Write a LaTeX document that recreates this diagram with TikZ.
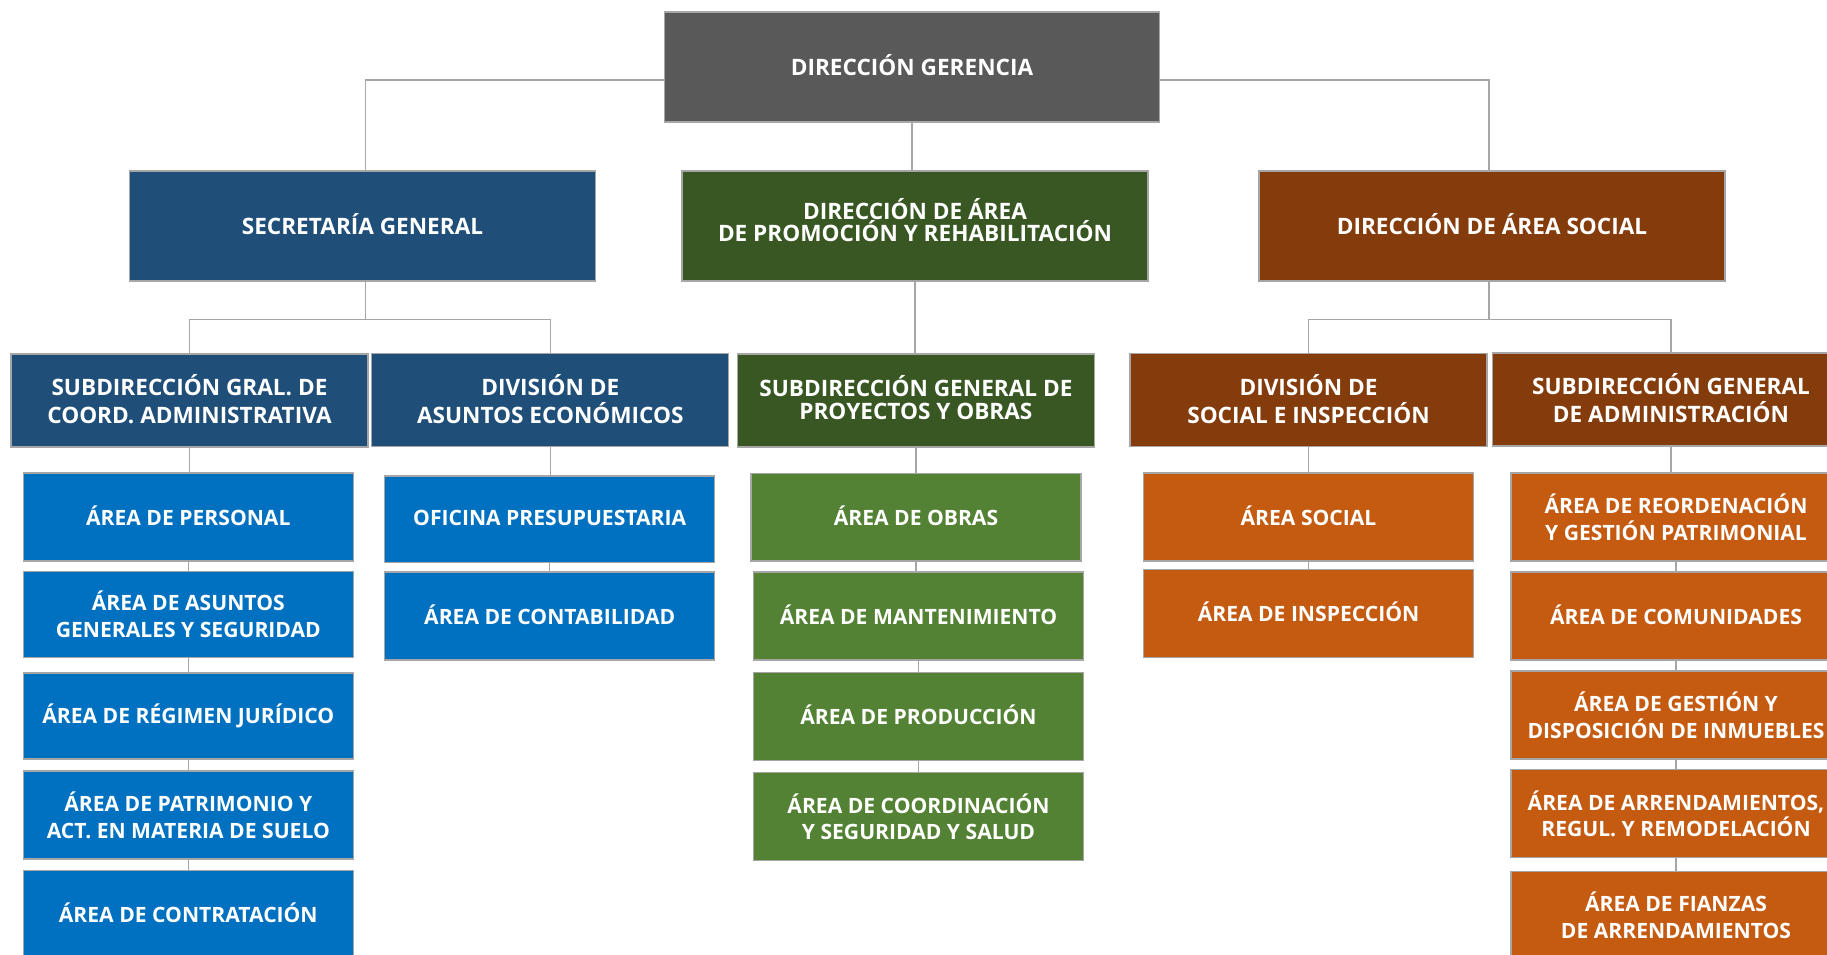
\documentclass[tikz,border=0pt]{standalone}
\usepackage{fontspec}
\setmainfont{Open Sans}
\definecolor{cgray}{HTML}{595959}
\definecolor{cdblue}{HTML}{1F4E79}
\definecolor{cblue}{HTML}{0070C0}
\definecolor{cdgreen}{HTML}{385723}
\definecolor{cgreen}{HTML}{548235}
\definecolor{cdorange}{HTML}{843C0C}
\definecolor{corange}{HTML}{C55A11}
\definecolor{cborder}{HTML}{A6A6A6}
\definecolor{cline}{HTML}{A6A6A6}
\newcommand{\upby}[1]{\rule[-#1pt]{0pt}{0pt}}
\tikzset{
  box/.style={draw=cborder, line width=1.3pt, text=white, align=center, inner sep=0pt,
    font=\fontsize{22.6}{28}\selectfont\bfseries},
  top/.style={box, minimum width=466, minimum height=110},
  mid/.style={box, minimum width=357, minimum height=93},
  leaf/.style={box, minimum width=330, minimum height=88,
    font=\fontsize{21.1}{26.8}\selectfont\bfseries},
  conn/.style={draw=cline, line width=1.3pt},
}
\begin{document}
\begin{tikzpicture}[x=1pt,y=-1pt]
\useasboundingbox (0,0) rectangle (1827,954);
\fill[white] (0,0) rectangle (1827,954);
\clip (0,0) rectangle (1827,954);

% level 1
\node[box, fill=cgray, minimum width=495, minimum height=110] (dg) at (912,67) {DIRECCIÓN GERENCIA\upby{5}};

% level 2
\node[top, fill=cdblue] (sg) at (362.5,226) {SECRETARÍA GENERAL\upby{5}};
\node[top, fill=cdgreen, font=\fontsize{22.6}{21}\selectfont\bfseries] (dapr) at (915,226) {DIRECCIÓN DE ÁREA\\DE PROMOCIÓN Y REHABILITACIÓN\upby{12}};
\node[top, fill=cdorange] (das) at (1492,226) {DIRECCIÓN DE ÁREA SOCIAL\upby{5}};

% level 3
\node[mid, fill=cdblue] (sgca) at (189.5,400.5) {SUBDIRECCIÓN GRAL. DE\\COORD. ADMINISTRATIVA\upby{3}};
\node[mid, fill=cdblue] (dae) at (550.3,400) {DIVISIÓN DE\\ASUNTOS ECONÓMICOS\upby{3}};
\node[mid, fill=cdgreen, font=\fontsize{22.6}{23}\selectfont\bfseries] (sgpo) at (915.9,400.5) {SUBDIRECCIÓN GENERAL DE\\PROYECTOS Y OBRAS\upby{7}};
\node[mid, fill=cdorange] (dsi) at (1308.5,400) {DIVISIÓN DE\\SOCIAL E INSPECCIÓN\upby{3}};
\node[mid, fill=cdorange] (sga) at (1671,399.5) {SUBDIRECCIÓN GENERAL\\DE ADMINISTRACIÓN\upby{3}};

% level 4 - blue column 1
\node[leaf, fill=cblue] (p1) at (188.3,517) {ÁREA DE PERSONAL\upby{3}};
\node[leaf, fill=cblue, minimum height=86] (p2) at (188.3,614.2) {ÁREA DE ASUNTOS\\GENERALES Y SEGURIDAD};
\node[leaf, fill=cblue, minimum height=86] (p3) at (188.3,716) {ÁREA DE RÉGIMEN JURÍDICO\upby{3}};
\node[leaf, fill=cblue] (p4) at (188.3,815) {ÁREA DE PATRIMONIO Y\\ACT. EN MATERIA DE SUELO};
\node[leaf, fill=cblue] (p5) at (188.3,914.3) {ÁREA DE CONTRATACIÓN\upby{3}};

% level 4 - blue column 2
\node[leaf, fill=cblue, minimum height=86.5] (o1) at (549.7,519.3) {OFICINA PRESUPUESTARIA\upby{3}};
\node[leaf, fill=cblue] (o2) at (549.7,616) {ÁREA DE CONTABILIDAD\upby{3}};

% level 4 - green column
\node[leaf, fill=cgreen, minimum height=87.3] (g1) at (916,517.3) {ÁREA DE OBRAS\upby{3}};
\node[leaf, fill=cgreen] (g2) at (918.5,616) {ÁREA DE MANTENIMIENTO\upby{3}};
\node[leaf, fill=cgreen] (g3) at (918.5,716.5) {ÁREA DE PRODUCCIÓN\upby{3}};
\node[leaf, fill=cgreen] (g4) at (918.5,816.7) {ÁREA DE COORDINACIÓN\\Y SEGURIDAD Y SALUD};

% level 4 - orange column 1
\node[leaf, fill=corange] (s1) at (1308.5,517) {ÁREA SOCIAL\upby{3}};
\node[leaf, fill=corange] (s2) at (1308.5,613.3) {ÁREA DE INSPECCIÓN\upby{3}};

% level 4 - orange column 2
\node[leaf, fill=corange] (a1) at (1676,517) {ÁREA DE REORDENACIÓN\\Y GESTIÓN PATRIMONIAL};
\node[leaf, fill=corange] (a2) at (1676,616) {ÁREA DE COMUNIDADES\upby{3}};
\node[leaf, fill=corange] (a3) at (1676,715) {ÁREA DE GESTIÓN Y\\DISPOSICIÓN DE INMUEBLES};
\node[leaf, fill=corange] (a4) at (1676,813.7) {ÁREA DE ARRENDAMIENTOS,\\REGUL. Y REMODELACIÓN};
\node[leaf, fill=corange] (a5) at (1676,915.3) {ÁREA DE FIANZAS\\DE ARRENDAMIENTOS};

% connectors level 1 -> 2
\draw[conn] ([yshift=-13]dg.west) -| ([xshift=3]sg.north);
\draw[conn] ([yshift=-13]dg.east) -| ([xshift=-3]das.north);
\draw[conn] (dg.south) -- (dg.south |- dapr.north);

% level 2 -> 3
\coordinate (sgbus) at (365.5,319.3);
\draw[conn] ([xshift=3]sg.south) -- (sgbus);
\draw[conn] (sgca.north) |- (sgbus) -| (dae.north);
\draw[conn] (dapr.south) -- (dapr.south |- sgpo.north);
\coordinate (dasbus) at (1489,319.3);
\draw[conn] ([xshift=-3]das.south) -- (dasbus);
\draw[conn] (dsi.north) |- (dasbus) -| (sga.north);

% level 3 -> 4 chains
\draw[conn] (sgca.south) -- (sgca.south |- p1.north);
\draw[conn] (p1.south) -- (p2.north);
\draw[conn] (p2.south) -- (p3.north);
\draw[conn] (p3.south) -- (p4.north);
\draw[conn] (p4.south) -- (p5.north);

\draw[conn] (dae.south) -- (dae.south |- o1.north);
\draw[conn] (o1.south) -- (o2.north);

\draw[conn] (sgpo.south) -- (sgpo.south |- g1.north);
\draw[conn] (g1.south) -- (g1.south |- g2.north);
\draw[conn] (g2.south) -- (g3.north);
\draw[conn] (g3.south) -- (g4.north);

\draw[conn] (dsi.south) -- (dsi.south |- s1.north);
\draw[conn] (s1.south) -- (s2.north);

\draw[conn] (sga.south) -- (sga.south |- a1.north);
\draw[conn] (a1.south) -- (a2.north);
\draw[conn] (a2.south) -- (a3.north);
\draw[conn] (a3.south) -- (a4.north);
\draw[conn] (a4.south) -- (a5.north);
\end{tikzpicture}
\end{document}
